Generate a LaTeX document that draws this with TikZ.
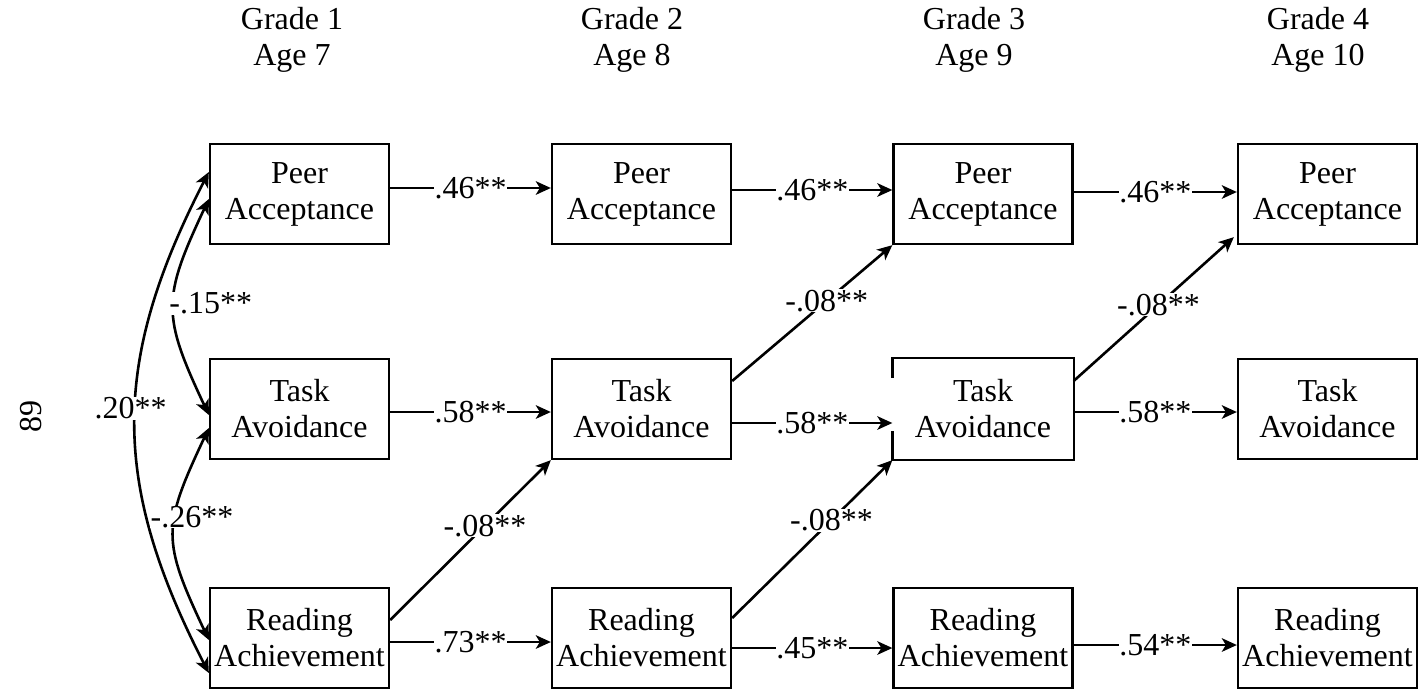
\documentclass[tikz,border=0pt]{standalone}
\usepackage{fontspec}
\setmainfont{Liberation Serif}
\usetikzlibrary{arrows.meta}
\begin{document}
\begin{tikzpicture}[x=1pt,y=-1pt,
  every node/.style={font=\fontsize{32}{36}\selectfont},
  box/.style={draw, line width=2.3pt, minimum width=179pt, minimum height=100pt,
              align=center, inner sep=0pt},
  openbox/.style={box, draw=none},
  edge/.style={line width=2.3pt},
  tip/.tip={Stealth[length=15pt,width=13.5pt,inset=4pt]},
  arr/.style={line width=2.6pt, -tip},
  dbl/.style={line width=2.6pt, tip-tip},
  coef/.style={fill=white, inner sep=0.5pt},
  heading/.style={align=center}
]
\useasboundingbox (0,0) rectangle (1418,689);

% column headings
\node[heading] (h1) at (292,40)  {Grade 1\\Age 7};
\node[heading] (h2) at (632,40)  {Grade 2\\Age 8};
\node[heading] (h3) at (974,40)  {Grade 3\\Age 9};
\node[heading] (h4) at (1318,40) {Grade 4\\Age 10};

% page number
\node[rotate=90] (pg) at (31,416) {89};

% measured constructs, one column per wave
\node[box] (P1) at (299.5,194) {Peer\\Acceptance};
\node[box] (T1) at (299.5,409) {Task\\Avoidance};
\node[box] (R1) at (299.5,638) {Reading\\Achievement};

\node[box] (P2) at (641.5,194) {Peer\\Acceptance};
\node[box] (T2) at (641.5,409) {Task\\Avoidance};
\node[box] (R2) at (641.5,638) {Reading\\Achievement};

\node[box] (P3) at (983,194) {Peer\\Acceptance};
\node[openbox] (T3) at (983,409) {Task\\Avoidance};
\node[box] (R3) at (983,638) {Reading\\Achievement};

\node[box] (P4) at (1327.5,194) {Peer\\Acceptance};
\node[box] (T4) at (1327.5,409) {Task\\Avoidance};
\node[box] (R4) at (1327.5,638) {Reading\\Achievement};

% grade 3 task box frame, broken on its left side
\draw[edge] ([yshift=-20pt]T3.north west) -- (T3.north west) -- (T3.north east)
  -- (T3.south east) -- (T3.south west) -- ([yshift=29pt]T3.south west);

% stability paths
\draw[arr] ([yshift=6pt]P1.east) -- node[coef]{.46**} ([yshift=6pt]P2.west);
\draw[arr] ([yshift=4pt]P2.east) -- node[coef]{.46**} ([yshift=4pt]P3.west);
\draw[arr] ([yshift=2pt]P3.east) -- node[coef]{.46**} ([yshift=2pt]P4.west);

\draw[arr] ([yshift=-3pt]T1.east) -- node[coef]{.58**} ([yshift=-3pt]T2.west);
\draw[arr] ([yshift=-14pt]T2.east) -- node[coef]{.58**} ([yshift=-14pt]T3.west);
\draw[arr] ([yshift=-3pt]T3.east) -- node[coef]{.58**} ([yshift=-3pt]T4.west);

\draw[arr] ([yshift=-4pt]R1.east) -- node[coef]{.73**} ([yshift=-4pt]R2.west);
\draw[arr] ([yshift=-10pt]R2.east) -- node[coef]{.45**} ([yshift=-10pt]R3.west);
\draw[arr] ([yshift=-7pt]R3.east) -- node[coef]{.54**} ([yshift=-7pt]R4.west);

% cross-lagged paths
\draw[arr] ([yshift=18pt]R1.east) -- node[coef,pos=0.59]{-.08**} (T2.south west);
\draw[arr] ([yshift=20pt]R2.east) -- node[coef,pos=0.62]{-.08**} (T3.south west);
\draw[arr] ([yshift=28pt]T2.east) -- node[coef,pos=0.59]{-.08**} (P3.south west);
\draw[arr] ([yshift=28pt]T3.east) -- node[coef,pos=0.53]{-.08**} ([xshift=-3pt,yshift=8pt]P4.south west);

% grade 1 correlations
\draw[dbl] ([yshift=22pt]P1.west) .. controls +(-98,190) and +(-98,-190) ..
  node[coef,pos=0.47,xshift=-5pt]{.20**} ([yshift=-35pt]R1.west);
\draw[dbl] ([yshift=-5pt]P1.west) .. controls +(-47,100) and +(-47,-100) ..
  node[coef,pos=0.48,anchor=west,xshift=-6pt]{-.15**} ([yshift=-6pt]T1.west);
\draw[dbl] ([yshift=-19pt]T1.west) .. controls +(-47,100) and +(-47,-100) ..
  node[coef,pos=0.4,xshift=17pt]{-.26**} ([yshift=-2pt]R1.west);
\end{tikzpicture}
\end{document}
